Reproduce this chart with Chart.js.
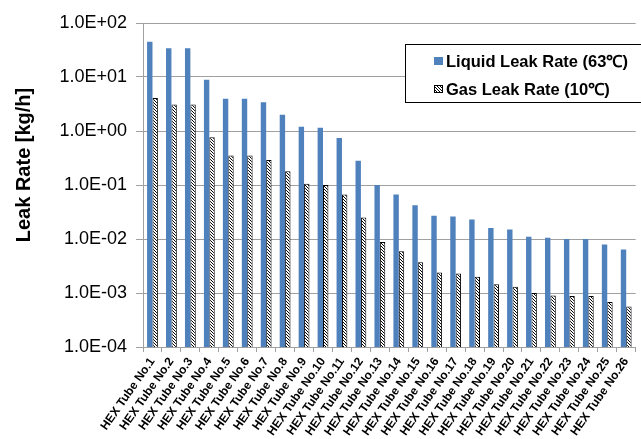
<!DOCTYPE html>
<html>
<head>
<meta charset="utf-8">
<script src="https://cdn.jsdelivr.net/npm/chart.js@4/dist/chart.umd.min.js"></script>
<style>
  body { margin: 0; background: #fff; }
</style>
</head>
<body>
<canvas id="myChart" width="641" height="439"></canvas>
<script>
let labels = [];
for (let i = 1; i <= 26; i++) labels.push('HEX Tube No.' + i);

const liquidLeak = [45, 34, 34, 8.9, 3.95, 3.95, 3.4, 2.0, 1.2, 1.15, 0.74, 0.28, 0.1,
    0.067, 0.042, 0.027, 0.026, 0.023, 0.016, 0.015, 0.011, 0.0105, 0.01, 0.01, 0.0079, 0.0064];
const gasLeak = [4.1, 3.1, 3.1, 0.77, 0.35, 0.35, 0.29, 0.18, 0.105, 0.1, 0.067, 0.025, 0.0088,
    0.0059, 0.0037, 0.0024, 0.0023, 0.002, 0.00145, 0.0013, 0.001, 0.0009, 0.00088, 0.00088, 0.00068, 0.00056];
const decades = [-4, -3, -2, -1, 0, 1, 2];

const FONT = "'Liberation Sans', Arial, sans-serif";
const BLUE = '#4f81bd';

// diagonal hatch for the gas bars
function hatch() {
    const c = document.createElement('canvas');
    c.width = 3; c.height = 3;
    const g = c.getContext('2d');
    g.fillStyle = '#fff';
    g.fillRect(0, 0, 3, 3);
    g.strokeStyle = '#000';
    g.lineWidth = 1;
    g.beginPath();
    g.moveTo(-1, -1); g.lineTo(4, 4);
    g.moveTo(-1, 2); g.lineTo(1, 4);
    g.moveTo(2, -1); g.lineTo(4, 1);
    g.stroke();
    return g.createPattern(c, 'repeat');
}
const gasFill = hatch();

function sci(v) {
    const e = Math.round(Math.log10(v));
    const sign = e < 0 ? '-' : '+';
    return '1.0E' + sign + String(Math.abs(e)).padStart(2, '0');
}

// rotated axis title + boxed legend
const extras = {
    id: 'extras',
    afterDraw(chart) {
        const ctx = chart.ctx;
        ctx.save();
        ctx.fillStyle = '#000';
        ctx.font = 'bold 20px ' + FONT;
        ctx.translate(24, 165);
        ctx.rotate(-Math.PI / 2);
        ctx.textAlign = 'center';
        ctx.textBaseline = 'middle';
        ctx.fillText('Leak Rate [kg/h]', 0, 0);
        ctx.restore();

        ctx.save();
        ctx.fillStyle = '#fff';
        ctx.fillRect(406, 44.5, 240, 58);
        ctx.strokeStyle = '#000';
        ctx.lineWidth = 1;
        ctx.strokeRect(405.5, 44.5, 240, 58);
        ctx.font = 'bold 16.5px ' + FONT;
        ctx.textBaseline = 'middle';
        ctx.textAlign = 'left';
        const rows = [61, 89];
        chart.data.datasets.forEach((ds, i) => {
            const y = rows[i];
            ctx.fillStyle = ds.backgroundColor;
            ctx.fillRect(434, y - 4, 9, 8);
            if (i === 1) {
                ctx.strokeStyle = '#000';
                ctx.strokeRect(434.5, y - 3.5, 8, 7);
            }
            ctx.fillStyle = '#000';
            ctx.fillText(ds.label, 446, y + 1);
        });
        ctx.restore();
    }
};

const ctx = document.getElementById('myChart').getContext('2d');
const myChart = new Chart(ctx, {
    type: 'bar',
    data: {
        labels,
        datasets: [{
            label: 'Liquid Leak Rate (63℃)',
            data: liquidLeak,
            backgroundColor: BLUE,
            borderWidth: 0,
            categoryPercentage: 0.57,
            barPercentage: 1
        }, {
            label: 'Gas Leak Rate (10℃)',
            data: gasLeak,
            backgroundColor: gasFill,
            borderColor: '#000',
            borderWidth: 1,
            borderSkipped: 'bottom',
            categoryPercentage: 0.57,
            barPercentage: 1
        }]
    },
    options: {
        responsive: false,
        animation: false,
        devicePixelRatio: 1,
        layout: { padding: { top: 23, right: 0, left: 0, bottom: 0 } },
        plugins: {
            legend: { display: false },
            tooltip: { enabled: false }
        },
        scales: {
            x: {
                grid: {
                    offset: true,
                    drawOnChartArea: false,
                    drawTicks: true,
                    tickLength: 5,
                    color: '#a0a0a0'
                },
                border: { color: '#a0a0a0' },
                ticks: {
                    minRotation: 55,
                    maxRotation: 55,
                    autoSkip: false,
                    padding: 3,
                    color: '#000',
                    font: { family: FONT, size: 12, weight: 'bold' }
                },
                afterFit(scale) { scale.height = 92; }
            },
            y: {
                type: 'logarithmic',
                min: 1e-4,
                max: 100,
                grid: {
                    color: '#a0a0a0',
                    tickLength: 7
                },
                border: { color: '#a0a0a0' },
                ticks: {
                    padding: 9,
                    color: '#000',
                    font: { family: FONT, size: 18 },
                    callback: (v) => sci(v)
                },
                afterBuildTicks(scale) {
                    scale.ticks = decades.map(e => ({ value: Math.pow(10, e) }));
                },
                afterFit(scale) { scale.width = 143; }
            }
        }
    },
    plugins: [extras]
});
</script>
</body>
</html>
